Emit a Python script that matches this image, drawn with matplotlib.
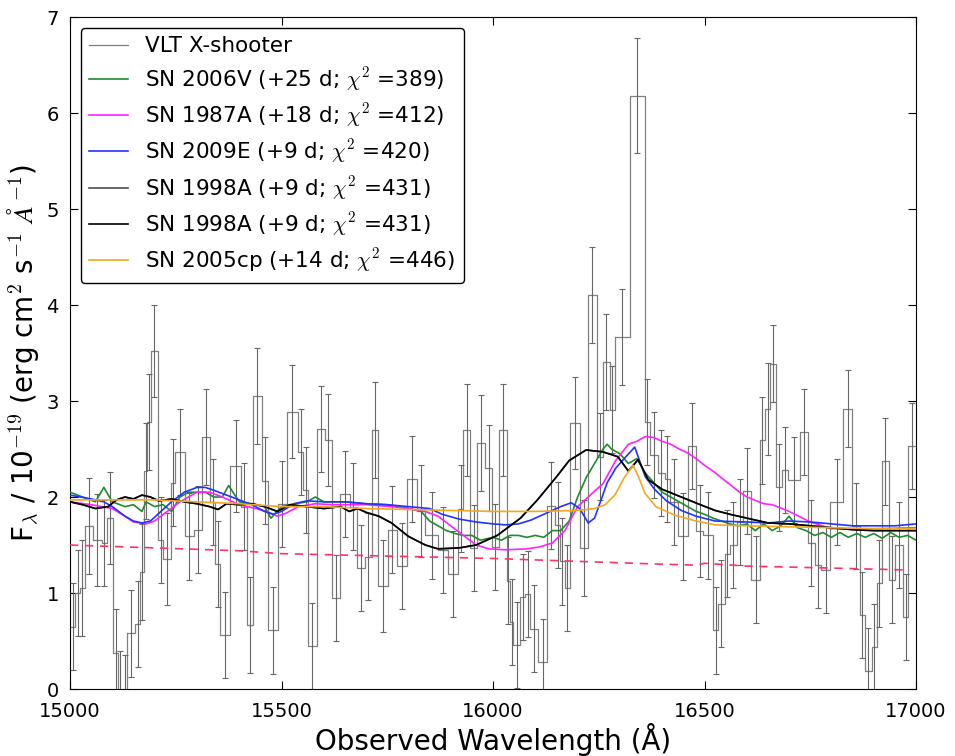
import numpy as np
import matplotlib
matplotlib.use("Agg")
import matplotlib.pyplot as plt

plt.rcParams['font.family'] = ['DejaVu Sans']
plt.rcParams['mathtext.fontset'] = 'cm'

# X-shooter binned spectrum (bin edges in A, flux and error per bin)
edges = [15000, 15012, 15024, 15035, 15055, 15075, 15087, 15102, 15114, 15124,
         15134, 15154, 15166, 15175, 15183, 15192, 15207, 15221, 15238, 15248,
         15272, 15292, 15311, 15331, 15343, 15355, 15378, 15405, 15418, 15433,
         15453, 15468, 15492, 15512, 15539, 15551, 15563, 15583, 15603, 15619,
         15639, 15662, 15678, 15698, 15713, 15729, 15752, 15772, 15797, 15821,
         15840, 15871, 15894, 15918, 15930, 15946, 15962, 15982, 15997, 16013,
         16033, 16040, 16048, 16064, 16076, 16088, 16107, 16127, 16147, 16158,
         16170, 16182, 16205, 16225, 16245, 16260, 16276, 16288, 16324, 16359,
         16371, 16390, 16406, 16418, 16438, 16461, 16481, 16497, 16520, 16532,
         16548, 16560, 16576, 16591, 16611, 16631, 16643, 16655, 16670, 16682,
         16698, 16726, 16745, 16760, 16776, 16796, 16828, 16848, 16867, 16879,
         16895, 16907, 16919, 16935, 16950, 16970, 16982, 17000]
flux = [0.65, 1.00, 1.05, 1.70, 1.55, 1.52, 1.78, 0.38, -0.05, -0.10,
        0.58, 0.68, 1.22, 2.27, 2.78, 3.52, 1.55, 1.35, 2.15, 2.47,
        1.59, 1.66, 2.63, 1.95, 1.30, 0.56, 2.32, 1.90, 0.67, 3.05,
        2.17, 0.61, 1.93, 2.89, 2.47, 2.07, 0.45, 2.71, 2.59, 0.95,
        2.03, 1.90, 1.26, 1.38, 2.70, 1.07, 1.66, 1.28, 2.19, 1.85,
        1.60, 1.45, 1.20, 1.88, 2.70, 1.47, 2.56, 2.30, 1.48, 2.70,
        1.13, 0.70, 0.46, 0.96, 0.99, 0.63, 0.28, 1.91, 1.71, 1.33,
        1.05, 2.77, 1.47, 4.10, 2.42, 3.41, 2.91, 3.67, 6.18, 2.78,
        2.44, 2.25, 2.19, 1.95, 1.59, 2.53, 1.65, 1.60, 0.61, 0.89,
        1.41, 1.50, 1.74, 2.06, 1.14, 2.59, 2.92, 3.39, 2.10, 2.28,
        2.18, 2.68, 1.52, 1.29, 1.24, 1.95, 2.92, 1.70, 0.77, 0.19,
        0.44, 1.10, 2.37, 1.14, 1.50, 0.75, 2.53]
ferr = [0.45, 0.45, 0.50, 0.50, 0.48, 0.45, 0.48, 0.45, 0.45, 0.45,
        0.45, 0.45, 0.50, 0.50, 0.50, 0.48, 0.45, 0.48, 0.45, 0.45,
        0.45, 0.45, 0.50, 0.45, 0.45, 0.45, 0.48, 0.45, 0.50, 0.50,
        0.45, 0.45, 0.45, 0.48, 0.45, 0.45, 0.45, 0.45, 0.48, 0.45,
        0.45, 0.45, 0.45, 0.45, 0.50, 0.48, 0.45, 0.45, 0.45, 0.48,
        0.45, 0.45, 0.45, 0.45, 0.48, 0.45, 0.50, 0.45, 0.45, 0.48,
        0.45, 0.45, 0.45, 0.45, 0.45, 0.45, 0.45, 0.45, 0.45, 0.45,
        0.45, 0.48, 0.50, 0.50, 0.45, 0.50, 0.45, 0.50, 0.60, 0.45,
        0.45, 0.45, 0.45, 0.45, 0.45, 0.45, 0.48, 0.45, 0.45, 0.45,
        0.45, 0.45, 0.45, 0.45, 0.45, 0.45, 0.48, 0.40, 0.45, 0.45,
        0.45, 0.45, 0.45, 0.45, 0.45, 0.45, 0.40, 0.45, 0.45, 0.45,
        0.45, 0.45, 0.45, 0.45, 0.45, 0.45, 0.45]

# template spectra (wavelength, flux)
wl_06V = [15000, 15030, 15060, 15080, 15100, 15130, 15150, 15170, 15180, 15200,
          15220, 15240, 15260, 15280, 15300, 15320, 15340, 15360, 15375, 15400,
          15430, 15460, 15475, 15500, 15530, 15560, 15580, 15600, 15650, 15700,
          15750, 15780, 15800, 15830, 15850, 15870, 15890, 15910, 15930, 15950,
          15970, 16000, 16020, 16040, 16060, 16080, 16100, 16120, 16140, 16160,
          16180, 16200, 16220, 16240, 16260, 16270, 16280, 16300, 16320, 16340,
          16360, 16380, 16400, 16420, 16440, 16460, 16480, 16500, 16520, 16540,
          16560, 16580, 16600, 16620, 16640, 16660, 16680, 16700, 16720, 16740,
          16760, 16780, 16800, 16820, 16840, 16860, 16880, 16900, 16920, 16940,
          16960, 16980, 17000]
fl_06V = [2.05, 2.00, 1.95, 2.10, 1.95, 1.90, 1.92, 1.85, 1.95, 1.90,
          1.92, 1.85, 2.00, 2.05, 2.05, 2.05, 2.00, 2.00, 2.12, 1.95,
          1.93, 1.90, 1.78, 1.90, 1.93, 1.95, 2.00, 1.95, 1.95, 1.93,
          1.92, 1.90, 1.88, 1.85, 1.75, 1.70, 1.65, 1.62, 1.60, 1.60,
          1.55, 1.58, 1.55, 1.60, 1.60, 1.58, 1.60, 1.58, 1.65, 1.65,
          1.75, 2.00, 2.20, 2.35, 2.50, 2.55, 2.50, 2.45, 2.35, 2.40,
          2.25, 2.15, 2.05, 2.00, 1.95, 1.90, 1.85, 1.82, 1.78, 1.75,
          1.72, 1.70, 1.72, 1.65, 1.72, 1.65, 1.70, 1.80, 1.68, 1.65,
          1.60, 1.63, 1.58, 1.63, 1.58, 1.62, 1.58, 1.62, 1.57, 1.63,
          1.58, 1.60, 1.55]

wl_87A = [15000, 15050, 15100, 15130, 15150, 15180, 15200, 15230, 15260, 15300,
          15330, 15360, 15400, 15440, 15470, 15490, 15510, 15540, 15580, 15620,
          15700, 15760, 15800, 15840, 15870, 15900, 15930, 15960, 15990, 16030,
          16080, 16110, 16140, 16170, 16200, 16230, 16260, 16290, 16320, 16340,
          16360, 16380, 16400, 16420, 16440, 16460, 16480, 16500, 16520, 16540,
          16560, 16580, 16600, 16640, 16660, 16700, 16750, 16800, 16900, 17000]
fl_87A = [1.95, 1.92, 1.88, 1.80, 1.74, 1.72, 1.75, 1.85, 1.95, 2.05,
          2.05, 2.00, 1.92, 1.88, 1.84, 1.80, 1.83, 1.90, 1.93, 1.92,
          1.92, 1.90, 1.88, 1.85, 1.80, 1.70, 1.60, 1.50, 1.46, 1.45,
          1.46, 1.48, 1.52, 1.65, 1.90, 2.02, 2.14, 2.38, 2.55, 2.58,
          2.63, 2.62, 2.58, 2.55, 2.50, 2.46, 2.40, 2.33, 2.27, 2.20,
          2.13, 2.06, 2.00, 1.93, 1.92, 1.85, 1.74, 1.67, 1.67, 1.68]

wl_09E = [15000, 15050, 15080, 15100, 15130, 15150, 15170, 15190, 15210, 15240,
          15270, 15300, 15320, 15340, 15370, 15400, 15430, 15460, 15480, 15500,
          15530, 15560, 15600, 15650, 15700, 15750, 15800, 15850, 15880, 15920,
          15960, 16000, 16030, 16060, 16090, 16120, 16160, 16185, 16205, 16225,
          16240, 16270, 16290, 16310, 16335, 16360, 16382, 16410, 16445, 16480,
          16525, 16600, 16650, 16700, 16750, 16800, 16850, 16900, 16950, 17000]
fl_09E = [2.02, 1.98, 1.95, 1.90, 1.80, 1.75, 1.73, 1.75, 1.83, 1.95,
          2.05, 2.10, 2.10, 2.07, 2.02, 1.97, 1.92, 1.85, 1.82, 1.85,
          1.93, 1.96, 1.95, 1.95, 1.93, 1.92, 1.90, 1.88, 1.82, 1.77,
          1.74, 1.72, 1.71, 1.72, 1.76, 1.82, 1.90, 1.94, 1.88, 1.73,
          1.78, 2.15, 2.30, 2.40, 2.52, 2.21, 2.08, 1.96, 1.86, 1.80,
          1.75, 1.74, 1.73, 1.75, 1.74, 1.72, 1.70, 1.70, 1.70, 1.72]

wl_98A = [15000, 15030, 15060, 15090, 15110, 15130, 15150, 15170, 15190, 15210,
          15240, 15270, 15300, 15330, 15350, 15370, 15400, 15430, 15460, 15490,
          15520, 15560, 15600, 15640, 15660, 15680, 15700, 15730, 15760, 15800,
          15840, 15870, 15920, 15960, 16010, 16065, 16105, 16150, 16180, 16220,
          16260, 16295, 16320, 16343, 16367, 16400, 16445, 16490, 16525, 16560,
          16600, 16650, 16700, 16750, 16800, 16850, 16900, 16950, 17000]
fl_98A = [1.95, 1.92, 1.88, 1.90, 1.97, 2.00, 1.98, 2.02, 2.00, 1.96,
          1.98, 1.95, 1.93, 1.90, 1.87, 1.93, 1.92, 1.93, 1.90, 1.85,
          1.92, 1.90, 1.88, 1.90, 1.85, 1.88, 1.84, 1.80, 1.73, 1.59,
          1.50, 1.46, 1.47, 1.50, 1.60, 1.78, 1.97, 2.21, 2.38, 2.49,
          2.47, 2.42, 2.27, 2.39, 2.18, 2.08, 2.00, 1.92, 1.86, 1.82,
          1.78, 1.73, 1.72, 1.70, 1.68, 1.66, 1.65, 1.65, 1.65]

wl_05cp = [15000, 15100, 15200, 15300, 15400, 15500, 15600, 15700, 15800, 15900,
           16000, 16100, 16200, 16240, 16265, 16288, 16310, 16331, 16345, 16359,
           16385, 16430, 16480, 16525, 16600, 16700, 16800, 16900, 17000]
fl_05cp = [1.97, 1.97, 1.97, 1.95, 1.93, 1.90, 1.90, 1.88, 1.87, 1.86,
           1.85, 1.85, 1.86, 1.88, 1.92, 2.02, 2.20, 2.33, 2.20, 2.04,
           1.90, 1.81, 1.75, 1.71, 1.70, 1.69, 1.68, 1.67, 1.67]

# continuum (red dashed)
wl_cont = [15000, 15200, 15400, 15500, 15600, 15800, 16000, 16200, 16400, 16480,
           16500, 16600, 16800, 16980]
fl_cont = [1.50, 1.47, 1.44, 1.41, 1.40, 1.38, 1.36, 1.33, 1.30, 1.29,
           1.31, 1.28, 1.26, 1.24]

fig = plt.figure(figsize=(9.55, 7.56), dpi=100)
ax = fig.add_axes([0.0733, 0.0886, 0.8859, 0.8889])

centers = 0.5 * (np.array(edges[:-1]) + np.array(edges[1:]))
ax.step(edges, flux + [flux[-1]], where='post', color='0.5', lw=0.9,
        label='VLT X-shooter', zorder=2)
ax.errorbar(centers, flux, yerr=ferr, fmt='none', ecolor='0.4', elinewidth=0.8,
            capsize=2, capthick=0.8, zorder=2)

ax.plot(wl_06V, fl_06V, color='#1f8a2e', lw=1.2, label=r'SN 2006V (+25 d; $\chi^2$ =389)', zorder=3)
ax.plot(wl_87A, fl_87A, color='#ff22ff', lw=1.2, label=r'SN 1987A (+18 d; $\chi^2$ =412)', zorder=3)
ax.plot(wl_09E, fl_09E, color='#2233ff', lw=1.2, label=r'SN 2009E (+9 d; $\chi^2$ =420)', zorder=3)
ax.plot(wl_98A, fl_98A, color='0.3', lw=1.2, label=r'SN 1998A (+9 d; $\chi^2$ =431)', zorder=3)
ax.plot(wl_98A, fl_98A, color='k', lw=1.2, label=r'SN 1998A (+9 d; $\chi^2$ =431)', zorder=3)
ax.plot(wl_05cp, fl_05cp, color='#f5a623', lw=1.2, label=r'SN 2005cp (+14 d; $\chi^2$ =446)', zorder=3)
ax.plot(wl_cont, fl_cont, color='#ff3366', lw=1.2, ls='--', dashes=(5, 4), zorder=3)

ax.set_xlim(15000, 17000)
ax.set_ylim(0, 7)
ax.set_xticks([15000, 15500, 16000, 16500, 17000])
ax.set_yticks(range(8))
ax.tick_params(direction='in', top=True, right=True, labelsize=14, length=6)
ax.tick_params(axis='x', pad=9)
ax.tick_params(axis='y', pad=8)
ax.set_xlabel(r'Observed Wavelength (Å)', fontsize=20, labelpad=2)
ax.set_ylabel(r'F$_\lambda$ / 10$^{-19}$ (erg cm$^2$ s$^{-1}$ $\AA^{-1}$)', fontsize=20, labelpad=4)

leg = ax.legend(loc='upper left', fontsize=15.5, handlelength=1.8, labelspacing=0.4,
                fancybox=True, framealpha=1, borderaxespad=0.5)
leg.get_frame().set_edgecolor('k')

fig.savefig('out.png', dpi=100)
